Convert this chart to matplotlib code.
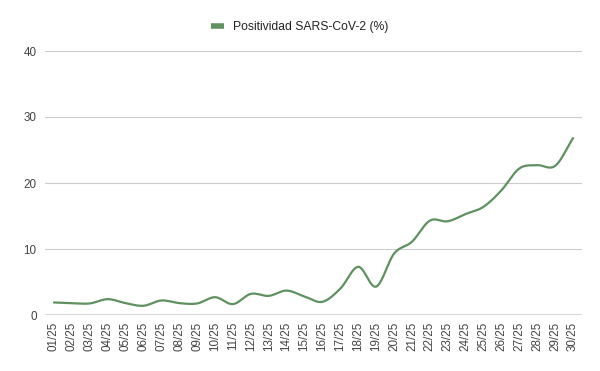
import matplotlib
matplotlib.use("Agg")
import matplotlib.pyplot as plt
import numpy as np

# ─── Data ────────────────────────────────────────────────────────────────────
dates = [f"{d:02d}/25" for d in range(1, 31)]
positividad = [1.9, 1.8, 1.75, 2.4, 1.8, 1.4, 2.2, 1.8, 1.75, 2.7,
               1.65, 3.2, 2.9, 3.7, 2.8, 2.0, 4.0, 7.3, 4.3, 9.3,
               11.1, 14.3, 14.2, 15.3, 16.4, 18.9, 22.2, 22.7, 22.6, 26.8]
yticks = [0, 10, 20, 30, 40]

LINE_COLOR = "#5f9160"
plt.rcParams["font.family"] = ["Liberation Sans", "DejaVu Sans"]


def smooth(x, y, n=20):
    """Catmull-Rom curve through the points (drawing only)."""
    x = np.asarray(x, float)
    y = np.asarray(y, float)
    px = np.concatenate([[2 * x[0] - x[1]], x, [2 * x[-1] - x[-2]]])
    py = np.concatenate([[2 * y[0] - y[1]], y, [2 * y[-1] - y[-2]]])
    xs, ys = [], []
    t = np.linspace(0, 1, n, endpoint=False)
    for i in range(1, len(px) - 2):
        for p, out in ((px, xs), (py, ys)):
            p0, p1, p2, p3 = p[i - 1], p[i], p[i + 1], p[i + 2]
            out.append(0.5 * ((2 * p1) + (-p0 + p2) * t
                              + (2 * p0 - 5 * p1 + 4 * p2 - p3) * t ** 2
                              + (-p0 + 3 * p1 - 3 * p2 + p3) * t ** 3))
    xs.append([x[-1]])
    ys.append([y[-1]])
    return np.concatenate(xs), np.concatenate(ys)


fig = plt.figure(figsize=(6.0, 3.71), dpi=100)
ax = fig.add_axes([45 / 600, 56 / 371, 537 / 600, 264 / 371])

xpos = np.arange(len(dates))
sx, sy = smooth(xpos, positividad)
line, = ax.plot(sx, sy, color=LINE_COLOR, linewidth=1.6, solid_capstyle="round",
                label="Positividad SARS-CoV-2 (%)", zorder=3)

ax.set_xlim(-0.5, len(dates) - 0.5)
ax.set_ylim(0, 40)
ax.set_yticks(yticks)
ax.set_xticks(xpos)
ax.set_xticklabels(dates, rotation=90, fontsize=8.4, color="#444444")
ax.tick_params(axis="y", labelsize=8.4, labelcolor="#444444", length=0, pad=6)
ax.tick_params(axis="x", length=0, pad=5)

for v in yticks[1:]:
    ax.axhline(v, color="#cccccc", linewidth=0.8, zorder=1)
ax.axhline(0, color="#333333", linewidth=1.0, zorder=2)

for s in ax.spines.values():
    s.set_visible(False)

fig.legend(handles=[line], loc="center", bbox_to_anchor=(300 / 600, 1 - 27 / 371),
           frameon=False, fontsize=8.7, handlelength=1.0, handletextpad=0.8,
           labelcolor="#222222")
line_leg = fig.legends[0].get_lines()[0]
line_leg.set_linewidth(4)
line_leg.set_solid_capstyle("butt")

fig.savefig("out.png", dpi=100, facecolor="white")
